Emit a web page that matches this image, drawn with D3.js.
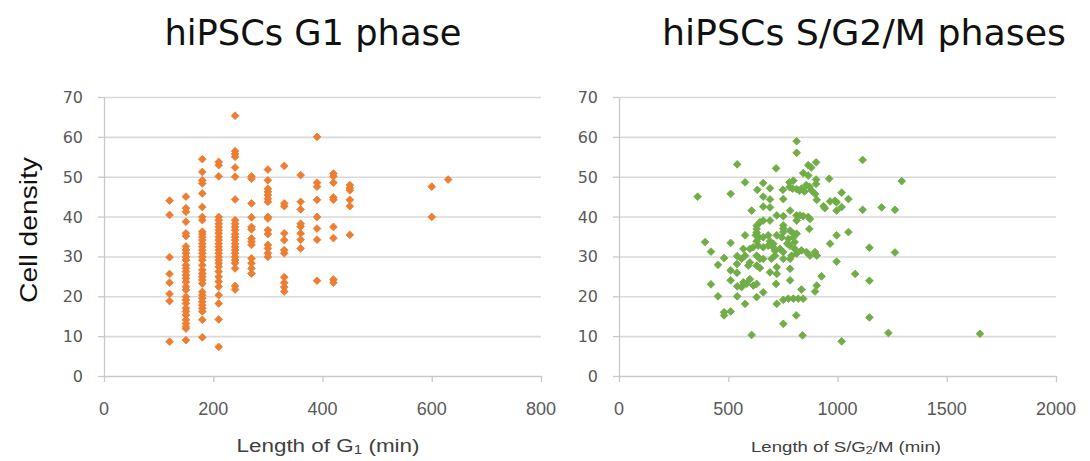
<!DOCTYPE html>
<html>
<head>
<meta charset="utf-8">
<script src="https://cdn.jsdelivr.net/npm/d3@7"></script>
<style>
  html, body { margin: 0; padding: 0; background: #fff; }
  svg { display: block; }
</style>
</head>
<body>
<svg id="chart" width="1090" height="461"></svg>
<script>
// ---- data ----------------------------------------------------------------
// G1 phase: measured lengths come in 30-min steps, densities listed per step
const g1Minutes = [120, 150, 180, 210, 240, 270, 300, 330, 360, 390, 420, 450, 600, 630];
const g1Densities = [
  [44.0, 40.4, 29.8, 25.6, 23.4, 20.6, 18.8, 8.6],
  [45.0, 42.1, 41.2, 38.7, 35.8, 35.1, 32.5, 31.6, 30.8, 29.9, 29.1, 27.8, 27.0, 26.2, 25.3,
   24.5, 23.6, 22.4, 21.6, 19.9, 19.1, 18.2, 17.0, 16.2, 15.3, 14.1, 13.2, 12.4, 11.9, 9.0],
  [54.4, 51.2, 49.1, 48.3, 45.8, 42.4, 39.9, 39.1, 36.2, 35.6, 34.9, 34.1, 33.2, 32.4, 31.6,
   30.8, 29.9, 29.1, 27.8, 26.6, 25.7, 24.9, 24.1, 23.2, 21.1, 20.3, 19.5, 18.6, 17.8, 17.0,
   16.2, 14.1, 9.7],
  [53.7, 52.9, 50.1, 39.9, 39.1, 38.2, 37.4, 36.6, 35.8, 34.9, 34.1, 33.2, 32.4, 31.6, 30.8,
   29.9, 29.1, 28.3, 27.4, 26.2, 24.9, 23.7, 22.4, 20.3, 18.2, 14.2, 7.3],
  [65.3, 56.4, 55.7, 55.0, 52.3, 50.0, 44.3, 39.1, 38.2, 37.4, 36.6, 35.6, 34.9, 34.1, 33.2,
   32.4, 31.6, 30.8, 29.9, 29.1, 28.3, 27.0, 22.6, 21.7],
  [50.1, 49.5, 43.3, 39.8, 37.4, 36.8, 34.5, 33.7, 32.9, 29.5, 28.3, 27.0, 25.7],
  [51.8, 49.1, 47.0, 46.2, 45.4, 44.5, 43.7, 39.9, 39.5, 36.6, 35.6, 32.9, 32.0, 30.8, 29.9],
  [52.7, 43.3, 42.6, 35.8, 34.1, 31.6, 30.8, 24.8, 23.4, 22.3, 21.2],
  [50.4, 43.7, 41.8, 38.2, 37.5, 35.8, 34.2, 32.0],
  [60.0, 48.5, 47.5, 44.2, 39.9, 37.0, 34.2, 23.9],
  [50.8, 50.1, 48.5, 44.8, 44.2, 37.4, 34.6, 24.2, 23.4],
  [47.9, 47.2, 46.6, 44.2, 42.6, 35.4],
  [47.5, 39.9],
  [49.3]
];

// S/G2/M phases: [length (min), cell density]
const sg2mPoints = [
  [360, 45.0], [394, 33.6], [421, 31.2], [421, 23.0], [453, 27.9], [453, 20.0],
  [481, 29.6], [481, 16.0], [481, 15.2], [511, 45.7], [511, 33.4], [511, 26.5],
  [511, 24.0], [511, 16.2], [541, 53.1], [541, 30.1], [540, 28.1], [540, 25.9],
  [541, 22.5], [541, 20.0],
  [813, 58.9], [813, 56.0], [902, 53.6], [866, 52.9], [880, 52.3], [719, 52.1],
  [843, 50.9], [866, 50.3], [902, 49.3], [902, 48.2], [962, 49.5], [577, 48.6], [660, 48.4],
  [691, 47.1], [633, 46.7], [750, 46.7], [780, 47.4], [795, 47.0], [813, 46.9],
  [835, 47.0], [849, 46.3], [872, 47.5], [880, 46.6], [780, 48.6], [798, 49.0],
  [826, 46.5], [857, 47.9], [660, 45.0],
  [691, 44.3], [660, 42.5], [691, 42.3], [752, 44.4], [897, 45.7], [905, 44.2],
  [936, 42.6], [942, 42.1], [966, 43.8], [988, 44.0], [996, 43.6], [1019, 46.0],
  [1050, 44.4], [1019, 42.4], [996, 41.5], [607, 41.5], [783, 41.5], [722, 40.3],
  [752, 40.1], [813, 40.3], [828, 40.3], [843, 40.1], [866, 39.9], [874, 39.4],
  [813, 39.0], [871, 36.9], [630, 37.7], [630, 36.9], [630, 36.0], [630, 33.8],
  [645, 38.6], [660, 39.0], [691, 39.0],
  [752, 37.8], [752, 37.0], [752, 36.1], [783, 36.5], [798, 35.7], [813, 35.7],
  [577, 35.3], [626, 35.3], [641, 34.8], [660, 34.8], [683, 35.3], [722, 35.3],
  [691, 33.8], [706, 33.2], [714, 31.4],
  [745, 34.8], [775, 34.4], [798, 34.8], [770, 33.2], [783, 32.7], [804, 33.6],
  [996, 35.3], [966, 33.2], [1050, 36.1], [614, 32.3], [637, 32.7], [660, 32.3],
  [683, 32.7], [706, 32.3], [569, 31.9], [599, 31.9], [737, 31.9], [752, 31.1],
  [804, 31.9], [813, 30.7], [835, 31.5], [858, 31.1], [874, 30.2], [897, 31.1],
  [905, 30.2], [630, 30.2], [645, 29.4], [660, 29.4], [698, 29.4], [714, 30.2],
  [752, 29.4], [783, 29.4], [790, 30.2], [561, 29.4], [577, 30.2], [599, 28.5],
  [592, 27.7], [996, 28.7], [1081, 25.6], [630, 27.7], [645, 27.1], [691, 26.0],
  [722, 27.3], [722, 25.6], [719, 23.1], [783, 26.9], [783, 24.0], [927, 25.0], [569, 23.5],
  [561, 22.3], [584, 23.1], [599, 24.3], [630, 23.1], [615, 22.7], [905, 22.7],
  [897, 21.2], [835, 21.7], [843, 19.4], [752, 19.1], [775, 19.4], [798, 19.4],
  [820, 19.4], [722, 18.1], [660, 21.0], [630, 19.8], [577, 18.1], [811, 15.2],
  [752, 13.1], [607, 10.3], [840, 10.2], [1019, 8.7],
  [1115, 54.2], [1294, 48.9], [1115, 41.7], [1202, 42.3], [1263, 41.7], [1146, 32.2],
  [1263, 31.0], [1146, 23.9], [1146, 14.7], [1233, 10.8], [1652, 10.6]
];

const densityTicks = [0, 10, 20, 30, 40, 50, 60, 70];
const g1Ticks = [0, 200, 400, 600, 800];
const sg2mTicks = [0, 500, 1000, 1500, 2000];

const g1Points = g1Minutes.flatMap((m, i) => g1Densities[i].map(d => [m, d]));

// ---- drawing -------------------------------------------------------------
const svg = d3.select("#chart");

const panels = [
  {
    points: g1Points, xMax: 800, xTicks: g1Ticks, color: "#ED7D31",
    left: 104, right: 541,
    title: "hiPSCs G1 phase", titleX: 313, titleLen: 297,
    xLabel: ["Length of G", "1", " (min)"], xLabelX: 328, xLabelSize: 16.5, xLabelLen: 183,
    yLabelRight: 83
  },
  {
    points: sg2mPoints, xMax: 2000, xTicks: sg2mTicks, color: "#70AD47",
    left: 619, right: 1056,
    title: "hiPSCs S/G2/M phases", titleX: 864, titleLen: 404,
    xLabel: ["Length of S/G", "2", "/M (min)"], xLabelX: 846, xLabelSize: 14.5, xLabelLen: 190,
    yLabelRight: 598
  }
];

const plotTop = 97, plotBottom = 376;
const gridColor = "#d9d9d9", axisColor = "#c9c9c9", tickText = "#595959";

panels.forEach(p => {
  const x = d3.scaleLinear().domain([0, p.xMax]).range([p.left, p.right]);
  const y = d3.scaleLinear().domain([0, 70]).range([plotBottom, plotTop]);
  const g = svg.append("g");

  // horizontal gridlines
  g.append("g")
    .attr("transform", `translate(${p.left},0)`)
    .call(d3.axisLeft(y).tickValues(densityTicks.filter(v => v > 0))
      .tickSize(-(p.right - p.left)).tickFormat(""))
    .call(s => s.select(".domain").remove())
    .call(s => s.selectAll("line").attr("stroke", gridColor).attr("stroke-width", 1.6));

  // y axis with outward ticks
  const ya = g.append("g")
    .attr("transform", `translate(${p.left},0)`)
    .call(d3.axisLeft(y).tickValues(densityTicks).tickSize(6).tickSizeOuter(0).tickPadding(0));
  ya.select(".domain").attr("stroke", axisColor).attr("stroke-width", 1.3);
  ya.selectAll("line").attr("stroke", axisColor).attr("stroke-width", 1.3);
  ya.selectAll("text").remove();

  // y tick labels
  g.append("g").selectAll("text").data(densityTicks).join("text")
    .attr("x", p.yLabelRight).attr("y", d => y(d) + 6)
    .attr("text-anchor", "end")
    .attr("font-family", "DejaVu Sans, Verdana, sans-serif")
    .attr("font-size", 16).attr("fill", tickText)
    .text(d => d);

  // x axis
  const xa = g.append("g")
    .attr("transform", `translate(0,${plotBottom})`)
    .call(d3.axisBottom(x).tickValues(p.xTicks).tickSize(6).tickSizeOuter(0).tickPadding(0));
  xa.select(".domain").attr("stroke", axisColor).attr("stroke-width", 1.6);
  xa.selectAll("line").attr("stroke", axisColor).attr("stroke-width", 1.3);
  xa.selectAll("text").remove();

  g.append("g").selectAll("text").data(p.xTicks).join("text")
    .attr("x", d => x(d)).attr("y", 415)
    .attr("text-anchor", "middle")
    .attr("font-family", "Liberation Sans, Arial, sans-serif")
    .attr("font-size", 18).attr("fill", tickText)
    .text(d => d);

  // markers
  const diamond = d3.symbol(d3.symbolSquare).size(30);
  g.append("g").selectAll("path").data(p.points).join("path")
    .attr("d", diamond)
    .attr("transform", d => `translate(${x(d[0])},${y(d[1])}) rotate(45)`)
    .attr("fill", p.color)
    .attr("stroke", p.color).attr("stroke-width", 0.8).attr("stroke-linejoin", "round");

  // panel title
  g.append("text")
    .attr("x", p.titleX).attr("y", 45)
    .attr("text-anchor", "middle")
    .attr("font-family", "DejaVu Sans, sans-serif")
    .attr("font-size", 36).attr("fill", "#111")
    .attr("textLength", p.titleLen).attr("lengthAdjust", "spacingAndGlyphs")
    .text(p.title);

  // x axis title with subscript
  const xl = g.append("text")
    .attr("x", p.xLabelX).attr("y", 452)
    .attr("text-anchor", "middle")
    .attr("font-family", "Liberation Sans, Arial, sans-serif")
    .attr("font-size", p.xLabelSize + 1).attr("fill", "#404040")
    .attr("textLength", p.xLabelLen).attr("lengthAdjust", "spacingAndGlyphs");
  xl.append("tspan").text(p.xLabel[0]);
  xl.append("tspan").attr("font-size", p.xLabelSize * 0.72).attr("dy", 2).text(p.xLabel[1]);
  xl.append("tspan").attr("dy", -2).text(p.xLabel[2]);
});

// shared y axis title
svg.append("text")
  .attr("transform", "translate(37,230) rotate(-90)")
  .attr("text-anchor", "middle")
  .attr("font-family", "Liberation Sans, Arial, sans-serif")
  .attr("font-size", 23).attr("fill", "#111")
  .attr("textLength", 146).attr("lengthAdjust", "spacingAndGlyphs")
  .text("Cell density");
</script>
</body>
</html>
